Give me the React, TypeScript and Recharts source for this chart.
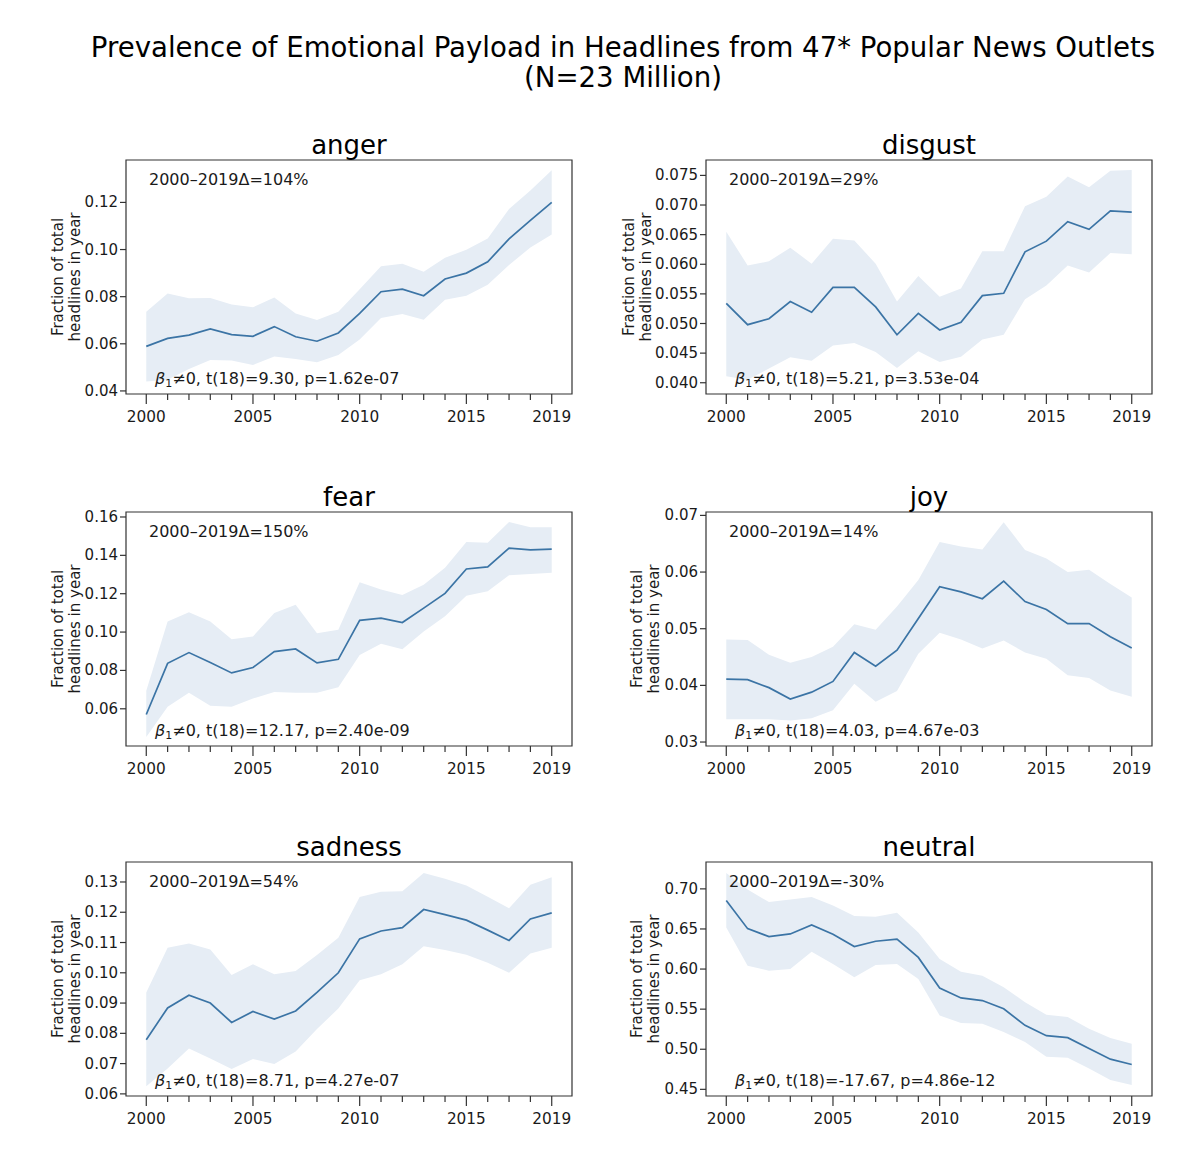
import React from 'react';
import { ComposedChart, Area, Line, XAxis, YAxis, ReferenceArea } from 'recharts';

const FONT = '"DejaVu Sans", Verdana, sans-serif';

const years = [2000, 2001, 2002, 2003, 2004, 2005, 2006, 2007, 2008, 2009, 2010, 2011, 2012, 2013, 2014, 2015, 2016, 2017, 2018, 2019];
const xLabelYears = [2000, 2005, 2010, 2015, 2019];
const xDomain = [1999.05, 2019.95];

const angerMean = [0.0589, 0.0623, 0.0637, 0.0663, 0.0639, 0.0632, 0.0673, 0.0630, 0.0611, 0.0646, 0.0729, 0.0821, 0.0832, 0.0804, 0.0875, 0.0900, 0.0948, 0.1045, 0.1124, 0.1200];
const angerLow = [0.0440, 0.0448, 0.0493, 0.0531, 0.0529, 0.0510, 0.0546, 0.0536, 0.0522, 0.0553, 0.0618, 0.0710, 0.0726, 0.0702, 0.0787, 0.0804, 0.0851, 0.0934, 0.1009, 0.1064];
const angerHigh = [0.0736, 0.0813, 0.0793, 0.0794, 0.0767, 0.0755, 0.0797, 0.0729, 0.0701, 0.0736, 0.0832, 0.0929, 0.0940, 0.0906, 0.0965, 0.0999, 0.1047, 0.1172, 0.1251, 0.1336];
const angerTicks = [0.04, 0.06, 0.08, 0.10, 0.12];

const disgustMean = [0.0534, 0.0498, 0.0508, 0.0537, 0.0519, 0.0561, 0.0561, 0.0528, 0.0481, 0.0517, 0.0489, 0.0502, 0.0547, 0.0551, 0.0621, 0.0639, 0.0672, 0.0659, 0.0690, 0.0688];
const disgustLow = [0.0411, 0.0405, 0.0424, 0.0443, 0.0437, 0.0463, 0.0467, 0.0452, 0.0425, 0.0453, 0.0435, 0.0444, 0.0473, 0.0481, 0.0541, 0.0564, 0.0598, 0.0586, 0.0619, 0.0617];
const disgustHigh = [0.0655, 0.0598, 0.0605, 0.0628, 0.0601, 0.0643, 0.0640, 0.0601, 0.0537, 0.0580, 0.0545, 0.0559, 0.0622, 0.0622, 0.0698, 0.0714, 0.0748, 0.0730, 0.0758, 0.0759];
const disgustTicks = [0.040, 0.045, 0.050, 0.055, 0.060, 0.065, 0.070, 0.075];

const fearMean = [0.0570, 0.0837, 0.0893, 0.0841, 0.0787, 0.0815, 0.0898, 0.0912, 0.0839, 0.0858, 0.1061, 0.1073, 0.1050, 0.1125, 0.1202, 0.1329, 0.1340, 0.1438, 0.1429, 0.1432];
const fearLow = [0.0453, 0.0610, 0.0684, 0.0616, 0.0610, 0.0654, 0.0687, 0.0684, 0.0684, 0.0712, 0.0881, 0.0939, 0.0911, 0.1003, 0.1082, 0.1190, 0.1213, 0.1296, 0.1303, 0.1309];
const fearHigh = [0.0694, 0.1055, 0.1103, 0.1055, 0.0963, 0.0977, 0.1099, 0.1143, 0.0994, 0.1012, 0.1260, 0.1222, 0.1193, 0.1247, 0.1335, 0.1469, 0.1466, 0.1574, 0.1546, 0.1546];
const fearTicks = [0.06, 0.08, 0.10, 0.12, 0.14, 0.16];

const joyMean = [0.0411, 0.0410, 0.0396, 0.0376, 0.0388, 0.0407, 0.0458, 0.0434, 0.0462, 0.0518, 0.0574, 0.0565, 0.0553, 0.0584, 0.0548, 0.0534, 0.0509, 0.0509, 0.0486, 0.0466];
const joyLow = [0.0340, 0.0340, 0.0340, 0.0338, 0.0342, 0.0356, 0.0403, 0.0371, 0.0390, 0.0456, 0.0493, 0.0481, 0.0465, 0.0479, 0.0458, 0.0447, 0.0418, 0.0413, 0.0391, 0.0380];
const joyHigh = [0.0481, 0.0480, 0.0454, 0.0440, 0.0450, 0.0468, 0.0508, 0.0498, 0.0539, 0.0586, 0.0653, 0.0645, 0.0640, 0.0688, 0.0639, 0.0624, 0.0600, 0.0604, 0.0579, 0.0555];
const joyTicks = [0.03, 0.04, 0.05, 0.06, 0.07];

const sadnessMean = [0.0779, 0.0884, 0.0926, 0.0900, 0.0836, 0.0872, 0.0847, 0.0874, 0.0935, 0.1000, 0.1112, 0.1138, 0.1149, 0.1209, 0.1192, 0.1174, 0.1141, 0.1107, 0.1178, 0.1198];
const sadnessLow = [0.0625, 0.0684, 0.0750, 0.0717, 0.0682, 0.0715, 0.0699, 0.0740, 0.0814, 0.0882, 0.0975, 0.0995, 0.1028, 0.1088, 0.1075, 0.1060, 0.1033, 0.1000, 0.1064, 0.1083];
const sadnessHigh = [0.0935, 0.1083, 0.1097, 0.1077, 0.0993, 0.1028, 0.0995, 0.1006, 0.1059, 0.1116, 0.1250, 0.1268, 0.1269, 0.1330, 0.1311, 0.1288, 0.1251, 0.1213, 0.1291, 0.1316];
const sadnessTicks = [0.06, 0.07, 0.08, 0.09, 0.10, 0.11, 0.12, 0.13];

const neutralMean = [0.6855, 0.6504, 0.6405, 0.6438, 0.6550, 0.6434, 0.6281, 0.6347, 0.6372, 0.6145, 0.5764, 0.5640, 0.5607, 0.5504, 0.5298, 0.5169, 0.5145, 0.5008, 0.4876, 0.4810];
const neutralLow = [0.6517, 0.6041, 0.5979, 0.6000, 0.6215, 0.6062, 0.5897, 0.6050, 0.6062, 0.5876, 0.5421, 0.5326, 0.5318, 0.5215, 0.5091, 0.4905, 0.4893, 0.4760, 0.4616, 0.4554];
const neutralHigh = [0.7198, 0.6992, 0.6835, 0.6868, 0.6897, 0.6793, 0.6661, 0.6653, 0.6702, 0.6455, 0.6124, 0.5967, 0.5917, 0.5773, 0.5587, 0.5430, 0.5401, 0.5256, 0.5140, 0.5070];
const neutralTicks = [0.45, 0.50, 0.55, 0.60, 0.65, 0.70];

const titleLine1 = 'Prevalence of Emotional Payload in Headlines from 47* Popular News Outlets';
const titleLine2 = '(N=23 Million)';
const yLabel1 = 'Fraction of total';
const yLabel2 = 'headlines in year';

const LINE_COLOR = '#3b74a5';
const BAND_COLOR = '#e6edf5';
const AXIS_COLOR = '#333333';
const TEXT_COLOR = '#1a1a1a';

const PLOT_W = 446;
const PLOT_H = 234;
const Y_AXIS_W = 80;
const M_TOP = 10;
const M_RIGHT = 12;
const X_AXIS_H = 42;

const XTick = (props: any) => {
  const { x, y, payload } = props;
  const major = xLabelYears.includes(payload.value);
  return (
    <g>
      <line x1={x} x2={x} y1={y} y2={y + (major ? 10 : 6)} stroke={AXIS_COLOR} strokeWidth={1.2} />
      {major && (
        <text x={x} y={y + 23} textAnchor="middle" dominantBaseline="central" fontSize={15.3} fontFamily={FONT} fill={TEXT_COLOR}>
          {payload.value}
        </text>
      )}
    </g>
  );
};

const makeYTick = (decimals: number) => (props: any) => {
  const { x, y, payload } = props;
  return (
    <g>
      <line x1={x} x2={x - 6} y1={y} y2={y} stroke={AXIS_COLOR} strokeWidth={1.2} />
      <text x={x - 8} y={y} textAnchor="end" dominantBaseline="central" fontSize={15} fontFamily={FONT} fill={TEXT_COLOR}>
        {Number(payload.value).toFixed(decimals)}
      </text>
    </g>
  );
};

type PanelProps = {
  title: string;
  mean: number[];
  low: number[];
  high: number[];
  ticks: number[];
  decimals: number;
  domain: number[];
  delta: string;
  stat: string;
  boxLeft: number;
  boxTop: number;
  yLabelOffset: number;
};

const Panel = (p: PanelProps) => {
  const data = years.map((year, i) => ({ year, mean: p.mean[i], band: [p.low[i], p.high[i]] }));
  const YTick = makeYTick(p.decimals);
  return (
    <>
      <div
        style={{
          position: 'absolute',
          left: p.boxLeft - Y_AXIS_W,
          top: p.boxTop - M_TOP,
        }}
      >
        <ComposedChart
          width={Y_AXIS_W + PLOT_W + M_RIGHT}
          height={M_TOP + PLOT_H + X_AXIS_H}
          data={data}
          margin={{ top: M_TOP, right: M_RIGHT, left: 0, bottom: 0 }}
        >
          <XAxis
            dataKey="year"
            type="number"
            domain={xDomain}
            ticks={years}
            interval={0}
            allowDataOverflow
            tick={XTick}
            tickLine={false}
            axisLine={false}
            tickSize={0}
            tickMargin={0}
            height={X_AXIS_H}
          />
          <YAxis
            type="number"
            domain={p.domain}
            ticks={p.ticks}
            interval={0}
            allowDataOverflow
            tick={YTick}
            tickLine={false}
            axisLine={false}
            tickSize={0}
            tickMargin={0}
            width={Y_AXIS_W}
          />
          <Area
            type="linear"
            dataKey="band"
            stroke="none"
            fill={BAND_COLOR}
            fillOpacity={1}
            dot={false}
            activeDot={false}
            isAnimationActive={false}
          />
          <Line
            type="linear"
            dataKey="mean"
            stroke={LINE_COLOR}
            strokeWidth={1.7}
            dot={false}
            activeDot={false}
            isAnimationActive={false}
          />
          <ReferenceArea
            x1={xDomain[0]}
            x2={xDomain[1]}
            y1={p.domain[0]}
            y2={p.domain[1]}
            fill="none"
            fillOpacity={0}
            stroke={AXIS_COLOR}
            strokeWidth={1.2}
            ifOverflow="visible"
          />
        </ComposedChart>
      </div>
      <div
        style={{
          position: 'absolute',
          left: p.boxLeft,
          width: PLOT_W,
          top: p.boxTop - 15 - 17,
          height: 34,
          lineHeight: '34px',
          textAlign: 'center',
          fontSize: 26,
          color: '#000',
          whiteSpace: 'nowrap',
        }}
      >
        {p.title}
      </div>
      <div
        style={{
          position: 'absolute',
          left: p.boxLeft + 23,
          top: p.boxTop + 20 - 11,
          height: 22,
          lineHeight: '22px',
          fontSize: 16,
          color: TEXT_COLOR,
          whiteSpace: 'nowrap',
        }}
      >
        {p.delta}
      </div>
      <div
        style={{
          position: 'absolute',
          left: p.boxLeft + 29,
          top: p.boxTop + PLOT_H - 15 - 11,
          height: 22,
          lineHeight: '22px',
          fontSize: 16,
          color: TEXT_COLOR,
          whiteSpace: 'nowrap',
        }}
      >
        <span style={{ fontStyle: 'italic' }}>β</span>
        <span style={{ fontSize: 11, position: 'relative', top: 3 }}>1</span>
        {p.stat}
      </div>
      <div
        style={{
          position: 'absolute',
          left: p.boxLeft + p.yLabelOffset - 110,
          top: p.boxTop + PLOT_H / 2 - 17,
          width: 220,
          height: 34,
          lineHeight: '17px',
          fontSize: 15,
          textAlign: 'center',
          color: TEXT_COLOR,
          transform: 'rotate(-90deg)',
          transformOrigin: '50% 50%',
          whiteSpace: 'nowrap',
        }}
      >
        <div>{yLabel1}</div>
        <div>{yLabel2}</div>
      </div>
    </>
  );
};

const LEFT_COL = 126;
const RIGHT_COL = 706;
const ROW_TOPS = [160, 512, 862];

export default function App() {
  return (
    <div
      style={{
        position: 'absolute',
        left: 0,
        top: 0,
        width: 1200,
        height: 1171,
        background: '#fff',
        fontFamily: FONT,
        overflow: 'hidden',
      }}
    >
      <div
        style={{
          position: 'absolute',
          left: 0,
          width: 1246,
          top: 48 - 17,
          height: 34,
          lineHeight: '34px',
          textAlign: 'center',
          fontSize: 27.6,
          color: '#000',
          whiteSpace: 'nowrap',
        }}
      >
        {titleLine1}
      </div>
      <div
        style={{
          position: 'absolute',
          left: 0,
          width: 1246,
          top: 78 - 17,
          height: 34,
          lineHeight: '34px',
          textAlign: 'center',
          fontSize: 27.6,
          color: '#000',
          whiteSpace: 'nowrap',
        }}
      >
        {titleLine2}
      </div>

      <Panel title="anger" mean={angerMean} low={angerLow} high={angerHigh} ticks={angerTicks} decimals={2}
        domain={[0.0387, 0.138]} delta="2000–2019Δ=104%" stat="≠0, t(18)=9.30, p=1.62e-07"
        boxLeft={LEFT_COL} boxTop={ROW_TOPS[0]} yLabelOffset={-59} />
      <Panel title="disgust" mean={disgustMean} low={disgustLow} high={disgustHigh} ticks={disgustTicks} decimals={3}
        domain={[0.0381, 0.0776]} delta="2000–2019Δ=29%" stat="≠0, t(18)=5.21, p=3.53e-04"
        boxLeft={RIGHT_COL} boxTop={ROW_TOPS[0]} yLabelOffset={-68} />
      <Panel title="fear" mean={fearMean} low={fearLow} high={fearHigh} ticks={fearTicks} decimals={2}
        domain={[0.0406, 0.1626]} delta="2000–2019Δ=150%" stat="≠0, t(18)=12.17, p=2.40e-09"
        boxLeft={LEFT_COL} boxTop={ROW_TOPS[1]} yLabelOffset={-59} />
      <Panel title="joy" mean={joyMean} low={joyLow} high={joyHigh} ticks={joyTicks} decimals={2}
        domain={[0.0293, 0.0706]} delta="2000–2019Δ=14%" stat="≠0, t(18)=4.03, p=4.67e-03"
        boxLeft={RIGHT_COL} boxTop={ROW_TOPS[1]} yLabelOffset={-60} />
      <Panel title="sadness" mean={sadnessMean} low={sadnessLow} high={sadnessHigh} ticks={sadnessTicks} decimals={2}
        domain={[0.0593, 0.1366]} delta="2000–2019Δ=54%" stat="≠0, t(18)=8.71, p=4.27e-07"
        boxLeft={LEFT_COL} boxTop={ROW_TOPS[2]} yLabelOffset={-59} />
      <Panel title="neutral" mean={neutralMean} low={neutralLow} high={neutralHigh} ticks={neutralTicks} decimals={2}
        domain={[0.4417, 0.7335]} delta="2000–2019Δ=-30%" stat="≠0, t(18)=-17.67, p=4.86e-12"
        boxLeft={RIGHT_COL} boxTop={ROW_TOPS[2]} yLabelOffset={-60} />
    </div>
  );
}
